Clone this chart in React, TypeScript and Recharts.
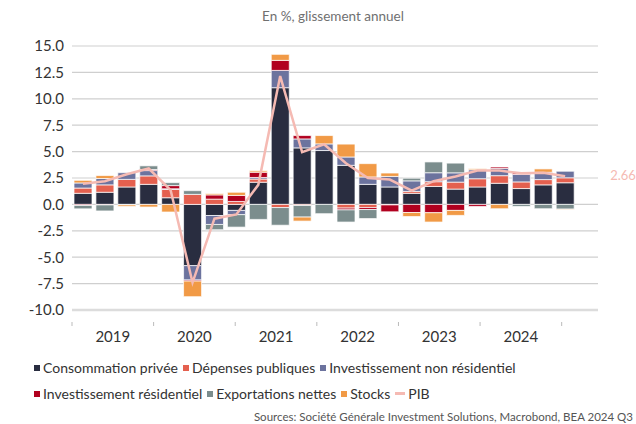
import { ComposedChart, Bar, Line, XAxis, YAxis, CartesianGrid, Legend, LabelList } from 'recharts'

const quarters = [
  '2019 T1', '2019 T2', '2019 T3', '2019 T4',
  '2020 T1', '2020 T2', '2020 T3', '2020 T4',
  '2021 T1', '2021 T2', '2021 T3', '2021 T4',
  '2022 T1', '2022 T2', '2022 T3', '2022 T4',
  '2023 T1', '2023 T2', '2023 T3', '2023 T4',
  '2024 T1', '2024 T2', '2024 T3', '2024 T4',
]

// contributions en points de %, glissement annuel
const conso = [1.05, 1.15, 1.65, 1.9, 0.63, -5.8, -1.05, -0.57, 2.1, 11.05, 5.35, 5.1, 3.7, 1.9, 1.65, 1.05, 1.7, 1.45, 1.65, 2.0, 1.5, 1.85, 2.05]
const depenses = [0.5, 0.7, 0.72, 0.8, 0.8, 0.95, 0.5, 0.28, 0.3, -0.3, -0.1, 0, -0.35, -0.3, -0.05, 0.18, 0.45, 0.66, 0.78, 0.72, 0.63, 0.5, 0.47]
const invNonRes = [0.48, 0.6, 0.63, 0.5, 0.05, -1.36, -0.85, -0.4, 0.15, 1.64, 0.85, 0.63, 0.79, 0.7, 1.0, 1.0, 0.85, 0.88, 0.85, 0.69, 0.7, 0.69, 0.62]
const invRes = [-0.1, -0.05, 0, 0.1, 0.3, -0.1, 0.4, 0.57, 0.5, 0.95, 0.32, 0, -0.17, -0.19, -0.65, -0.77, -0.79, -0.57, -0.19, 0.13, 0.15, 0, 0]
const exportsNettes = [-0.32, -0.57, -0.05, 0.35, 0.28, 0.35, -0.5, -1.18, -1.42, -1.67, -1.1, -0.88, -1.15, -0.85, 0, 0.25, 1.02, 0.92, 0, 0, -0.19, -0.41, -0.45]
const stocks = [0.25, 0.28, -0.15, -0.25, -0.72, -1.48, 0.13, 0.3, 0.13, 0.57, -0.38, 0.79, 1.22, 1.26, 0.32, -0.38, -0.88, -0.47, 0.1, -0.41, 0, 0.32, -0.05]
const pib = [1.95, 2.2, 2.85, 3.4, 1.35, -7.4, -1.35, -0.95, 1.85, 12.15, 4.95, 5.7, 3.9, 2.5, 2.35, 1.3, 2.2, 2.65, 3.2, 3.2, 2.95, 3.0, 2.66]

const years = ['2019', '2020', '2021', '2022', '2023', '2024']
const yearTicks = [0, 0.5, 1, 1.5, 2, 2.5, 3, 3.5, 4, 4.5, 5, 5.5, 6]
const yTicks = [-10, -7.5, -5, -2.5, 0, 2.5, 5, 7.5, 10, 12.5, 15]

const series = [
  { key: 'conso', name: 'Consommation privée', color: '#292d40', values: conso },
  { key: 'depenses', name: 'Dépenses publiques', color: '#e4604f', values: depenses },
  { key: 'invNonRes', name: 'Investissement non résidentiel', color: '#6c739e', values: invNonRes },
  { key: 'invRes', name: 'Investissement résidentiel', color: '#b1001f', values: invRes },
  { key: 'exports', name: 'Exportations nettes', color: '#7b8d8d', values: exportsNettes },
  { key: 'stocks', name: 'Stocks', color: '#f19a46', values: stocks },
]
const pibColor = '#f5bab3'

const data = quarters.map((q, i) => {
  const row: Record<string, any> = { q, pib: pib[i] ?? null }
  series.forEach((s) => {
    row[s.key] = s.values[i] ?? null
  })
  return row
})

const font = 'Lato, "Noto Sans", sans-serif'

function YearTick(props: any) {
  const { x, y, payload } = props
  const v = payload.value
  if (Number.isInteger(v)) {
    return <line x1={x} x2={x} y1={y + 4} y2={y + 8} stroke="#bbbbbb" strokeWidth={1} />
  }
  return (
    <text x={x} y={y + 20} textAnchor="middle" dominantBaseline="middle" fill="#333" fontSize={15} fontFamily={font}>
      {years[Math.floor(v)]}
    </text>
  )
}

function PibLabel(props: any) {
  const { x, y, index } = props
  if (index !== pib.length - 1) return null
  return (
    <text x={x + 45} y={y} dominantBaseline="middle" fill={pibColor} fontSize={13} fontFamily={font}>
      {pib[index].toFixed(2)}
    </text>
  )
}

function Square({ color }: { color: string }) {
  return <span style={{ display: 'inline-block', width: 6, height: 6, background: color, marginRight: 3, position: 'relative', top: -2 }} />
}

function renderLegend() {
  const rows = [series.slice(0, 3), series.slice(3)]
  return (
    <div style={{ position: 'relative', width: 636, height: 68, fontFamily: font, color: '#333' }}>
      {rows.map((row, r) => (
        <div key={r} style={{ position: 'absolute', left: 34, top: r === 0 ? 3 : 29, fontSize: 14, lineHeight: '18px', whiteSpace: 'nowrap' }}>
          {row.map((s) => (
            <span key={s.key} style={{ marginRight: 5 }}>
              <Square color={s.color} />
              {s.name}
            </span>
          ))}
          {r === 1 && (
            <span>
              <span style={{ display: 'inline-block', width: 10, height: 3, background: pibColor, marginRight: 3, position: 'relative', top: -4 }} />
              PIB
            </span>
          )}
        </div>
      ))}
      <div style={{ position: 'absolute', right: 3, top: 54, fontSize: 11.5, color: '#555', whiteSpace: 'nowrap' }}>
        Sources: Société Générale Investment Solutions, Macrobond, BEA 2024 Q3
      </div>
    </div>
  )
}

export default function App() {
  return (
    <div style={{ position: 'absolute', left: 0, top: 0, width: 636, height: 424, background: '#fff', fontFamily: font }}>
      <div style={{ position: 'absolute', left: 30, width: 606, top: 8, textAlign: 'center', fontSize: 13.5, color: '#707070' }}>
        En %, glissement annuel
      </div>
      <ComposedChart
        width={636}
        height={424}
        data={data}
        stackOffset="sign"
        barCategoryGap={2}
        margin={{ top: 46, right: 38, left: 0, bottom: 0 }}
      >
        <CartesianGrid vertical={false} stroke="#cfcfcf" strokeWidth={1.2} />
        <XAxis xAxisId="years" dataKey="none" type="number" domain={[0, 6.445]} allowDataOverflow ticks={yearTicks} interval={0} tick={<YearTick />} tickLine={false} axisLine={{ stroke: '#dcdcdc', strokeWidth: 2.5 }} height={46} />
        <XAxis xAxisId="cat" dataKey="q" hide height={0} />
        <YAxis
          width={72}
          domain={[-10, 15]}
          ticks={yTicks}
          interval={0}
          axisLine={false}
          tickLine={false}
          tickFormatter={(v: number) => v.toFixed(1)}
          tick={{ fill: '#333', fontSize: 15, fontFamily: font }}
        />
        <Legend
          verticalAlign="bottom"
          content={renderLegend}
          wrapperStyle={{ left: 0, bottom: 0, width: 636, height: 68 }}
        />
        {series.map((s) => (
          <Bar
            key={s.key}
            xAxisId="cat"
            dataKey={s.key}
            name={s.name}
            stackId="a"
            fill={s.color}
            stroke="#ffffff"
            strokeOpacity={0.7}
            strokeWidth={1}
            isAnimationActive={false}
          />
        ))}
        <Line
          xAxisId="cat"
          dataKey="pib"
          name="PIB"
          stroke={pibColor}
          strokeWidth={2.5}
          dot={false}
          isAnimationActive={false}
        >
          <LabelList dataKey="pib" content={<PibLabel />} />
        </Line>
      </ComposedChart>
    </div>
  )
}
